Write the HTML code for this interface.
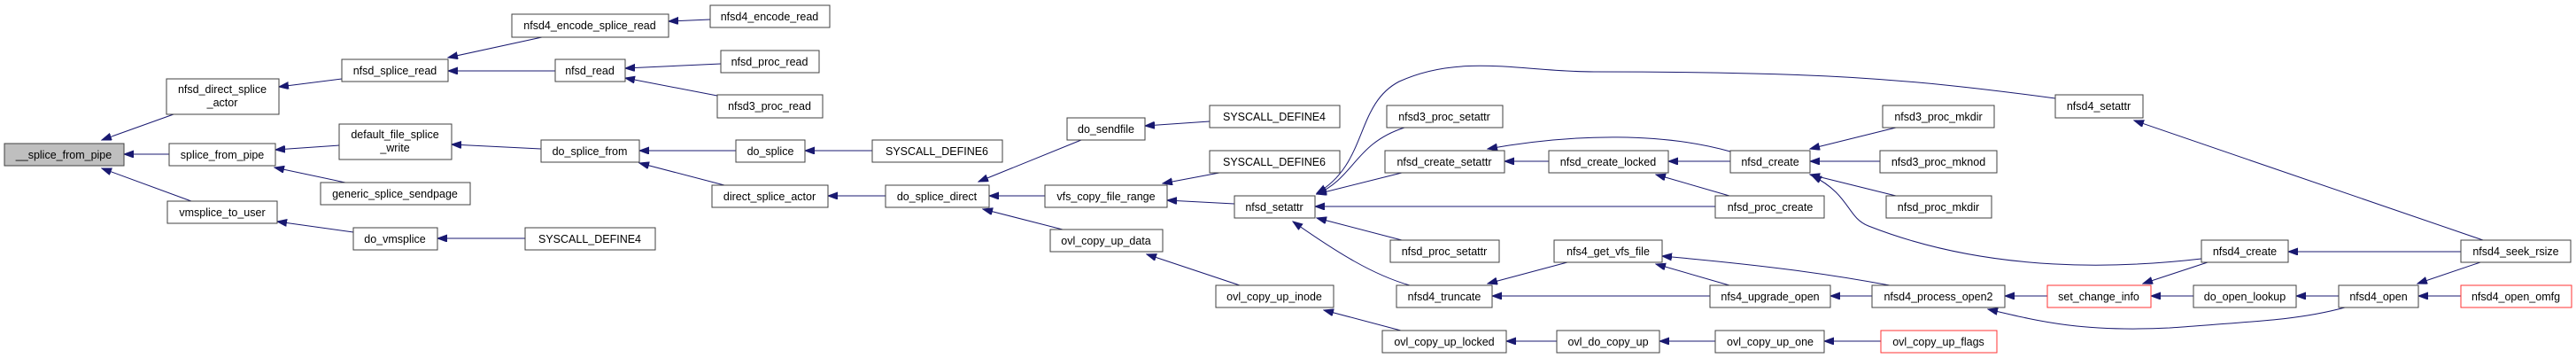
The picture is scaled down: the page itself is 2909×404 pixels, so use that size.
<!DOCTYPE html>
<html><head><meta charset="utf-8"><style>
html,body{margin:0;padding:0;background:#fff;}
svg{display:block;}
text{font-family:"Liberation Sans",sans-serif;font-size:12.5px;fill:#000;text-anchor:middle;}
.n{fill:#fff;stroke:#404040;stroke-width:1;}
.r{fill:#fff;stroke:#ff3333;stroke-width:1;}
.g{fill:#bfbfbf;stroke:#404040;stroke-width:1;}
path{fill:none;stroke:#191970;stroke-width:1;}
</style></head><body>
<svg width="2909" height="404" viewBox="0 0 2909 404" xmlns="http://www.w3.org/2000/svg">
<defs><marker id="a" markerUnits="userSpaceOnUse" markerWidth="12" markerHeight="10" refX="11" refY="4" orient="auto"><path d="M0,0 L11,4 L0,8 Z" style="fill:#191970;stroke:#191970"/></marker></defs>
<g marker-end="url(#a)">
<path d="M196,129 L115,158"/>
<path d="M191,174 L140,174"/>
<path d="M216,227 L115,190"/>
<path d="M386,89 L315,98"/>
<path d="M383,164 L311,169"/>
<path d="M390,206 L310,189"/>
<path d="M399,262 L313,250"/>
<path d="M612,42 L506,65"/>
<path d="M627,80 L506,80"/>
<path d="M802,22 L755,24"/>
<path d="M814,72 L706,77"/>
<path d="M810,108 L706,88"/>
<path d="M611,168 L510,163"/>
<path d="M831,170 L722,170"/>
<path d="M818,209 L722,184"/>
<path d="M985,170 L909,170"/>
<path d="M1000,221 L935,221"/>
<path d="M593,269 L494,269"/>
<path d="M1221,158 L1105,205"/>
<path d="M1180,221 L1117,221"/>
<path d="M1200,259 L1110,236"/>
<path d="M1366,137 L1293,142"/>
<path d="M1377,195 L1313,207"/>
<path d="M1394,230 L1318,226"/>
<path d="M1400,322 L1295,287"/>
<path d="M1582,373 L1495,350"/>
<path d="M2321,111 C2150,88 2050,81 1800,81 C1720,81 1650,60 1580,92 C1530,118 1545,185 1487,218"/>
<path d="M1586,144 C1530,162 1530,200 1487,219"/>
<path d="M1583,195 L1487,219"/>
<path d="M1937,233 L1485,233"/>
<path d="M1583,271 L1487,246"/>
<path d="M1592,322 C1550,310 1510,285 1460,250"/>
<path d="M1954,171 C1880,150 1780,150 1680,168"/>
<path d="M1749,182 L1699,182"/>
<path d="M1954,182 L1884,182"/>
<path d="M1953,221 L1870,197"/>
<path d="M2141,144 L2044,168"/>
<path d="M2123,182 L2044,182"/>
<path d="M2141,221 L2044,197"/>
<path d="M2486,292 C2400,302 2250,310 2110,255 C2085,245 2090,220 2046,198"/>
<path d="M2779,284 L2584,284"/>
<path d="M2804,271 L2410,136"/>
<path d="M1770,296 L1680,320"/>
<path d="M1931,334 L1685,334"/>
<path d="M2134,322 C2070,310 2000,300 1877,289"/>
<path d="M1953,322 L1870,298"/>
<path d="M2114,334 L2067,334"/>
<path d="M2312,334 L2264,334"/>
<path d="M2648,347 C2600,360 2560,362 2450,370 C2350,375 2300,362 2245,349"/>
<path d="M2493,296 L2420,320"/>
<path d="M2477,334 L2429,334"/>
<path d="M2641,334 L2593,334"/>
<path d="M2801,296 L2730,320"/>
<path d="M2779,334 L2731,334"/>
<path d="M1758,385 L1701,385"/>
<path d="M1937,385 L1874,385"/>
<path d="M2124,385 L2060,385"/>
</g>
<rect class="g" x="5" y="162" width="135" height="25"/><text x="72" y="179">__splice_from_pipe</text>
<rect class="n" x="188" y="89" width="127" height="40"/><text x="251" y="105">nfsd_direct_splice</text><text x="251" y="120">_actor</text>
<rect class="n" x="191" y="162" width="120" height="25"/><text x="251" y="179">splice_from_pipe</text>
<rect class="n" x="189" y="227" width="124" height="25"/><text x="251" y="244">vmsplice_to_user</text>
<rect class="n" x="386" y="67" width="120" height="25"/><text x="446" y="84">nfsd_splice_read</text>
<rect class="n" x="383" y="140" width="127" height="40"/><text x="446" y="156">default_file_splice</text><text x="446" y="171">_write</text>
<rect class="n" x="362" y="206" width="169" height="25"/><text x="446" y="223">generic_splice_sendpage</text>
<rect class="n" x="399" y="257" width="95" height="25"/><text x="446" y="274">do_vmsplice</text>
<rect class="n" x="578" y="16" width="177" height="26"/><text x="666" y="33">nfsd4_encode_splice_read</text>
<rect class="n" x="802" y="6" width="135" height="25"/><text x="869" y="23">nfsd4_encode_read</text>
<rect class="n" x="627" y="67" width="79" height="25"/><text x="666" y="84">nfsd_read</text>
<rect class="n" x="814" y="57" width="111" height="25"/><text x="869" y="74">nfsd_proc_read</text>
<rect class="n" x="810" y="107" width="119" height="26"/><text x="869" y="124">nfsd3_proc_read</text>
<rect class="n" x="611" y="158" width="111" height="25"/><text x="666" y="175">do_splice_from</text>
<rect class="n" x="831" y="158" width="78" height="25"/><text x="870" y="175">do_splice</text>
<rect class="n" x="985" y="158" width="147" height="25"/><text x="1058" y="175">SYSCALL_DEFINE6</text>
<rect class="n" x="804" y="209" width="131" height="25"/><text x="869" y="226">direct_splice_actor</text>
<rect class="n" x="593" y="257" width="147" height="25"/><text x="666" y="274">SYSCALL_DEFINE4</text>
<rect class="n" x="1000" y="209" width="117" height="25"/><text x="1058" y="226">do_splice_direct</text>
<rect class="n" x="1205" y="133" width="88" height="25"/><text x="1249" y="150">do_sendfile</text>
<rect class="n" x="1366" y="119" width="147" height="25"/><text x="1439" y="136">SYSCALL_DEFINE4</text>
<rect class="n" x="1366" y="170" width="147" height="25"/><text x="1439" y="187">SYSCALL_DEFINE6</text>
<rect class="n" x="1180" y="209" width="138" height="25"/><text x="1249" y="226">vfs_copy_file_range</text>
<rect class="n" x="1394" y="221" width="91" height="25"/><text x="1439" y="238">nfsd_setattr</text>
<rect class="n" x="1186" y="259" width="127" height="25"/><text x="1249" y="276">ovl_copy_up_data</text>
<rect class="n" x="1373" y="322" width="133" height="25"/><text x="1439" y="339">ovl_copy_up_inode</text>
<rect class="n" x="1566" y="119" width="131" height="25"/><text x="1631" y="136">nfsd3_proc_setattr</text>
<rect class="n" x="1564" y="170" width="135" height="25"/><text x="1631" y="187">nfsd_create_setattr</text>
<rect class="n" x="1749" y="170" width="135" height="25"/><text x="1816" y="187">nfsd_create_locked</text>
<rect class="n" x="1954" y="170" width="90" height="25"/><text x="1999" y="187">nfsd_create</text>
<rect class="n" x="1937" y="221" width="123" height="25"/><text x="1999" y="238">nfsd_proc_create</text>
<rect class="n" x="1570" y="271" width="123" height="25"/><text x="1631" y="288">nfsd_proc_setattr</text>
<rect class="n" x="1755" y="271" width="122" height="25"/><text x="1816" y="288">nfs4_get_vfs_file</text>
<rect class="n" x="1577" y="322" width="108" height="25"/><text x="1631" y="339">nfsd4_truncate</text>
<rect class="n" x="1931" y="322" width="136" height="25"/><text x="1999" y="339">nfs4_upgrade_open</text>
<rect class="n" x="1561" y="373" width="140" height="25"/><text x="1631" y="390">ovl_copy_up_locked</text>
<rect class="n" x="1758" y="373" width="116" height="25"/><text x="1816" y="390">ovl_do_copy_up</text>
<rect class="n" x="1937" y="373" width="123" height="25"/><text x="1999" y="390">ovl_copy_up_one</text>
<rect class="n" x="2321" y="107" width="99" height="26"/><text x="2370" y="124">nfsd4_setattr</text>
<rect class="n" x="2126" y="119" width="126" height="25"/><text x="2189" y="136">nfsd3_proc_mkdir</text>
<rect class="n" x="2123" y="170" width="132" height="25"/><text x="2189" y="187">nfsd3_proc_mknod</text>
<rect class="n" x="2130" y="221" width="119" height="25"/><text x="2189" y="238">nfsd_proc_mkdir</text>
<rect class="n" x="2486" y="271" width="98" height="25"/><text x="2535" y="288">nfsd4_create</text>
<rect class="n" x="2114" y="322" width="150" height="25"/><text x="2189" y="339">nfsd4_process_open2</text>
<rect class="r" x="2312" y="322" width="117" height="25"/><text x="2370" y="339">set_change_info</text>
<rect class="r" x="2124" y="373" width="131" height="25"/><text x="2189" y="390">ovl_copy_up_flags</text>
<rect class="n" x="2477" y="322" width="116" height="25"/><text x="2535" y="339">do_open_lookup</text>
<rect class="n" x="2641" y="322" width="90" height="25"/><text x="2686" y="339">nfsd4_open</text>
<rect class="n" x="2779" y="271" width="124" height="25"/><text x="2841" y="288">nfsd4_seek_rsize</text>
<rect class="r" x="2779" y="322" width="125" height="25"/><text x="2841" y="339">nfsd4_open_omfg</text>
</svg>
</body></html>
